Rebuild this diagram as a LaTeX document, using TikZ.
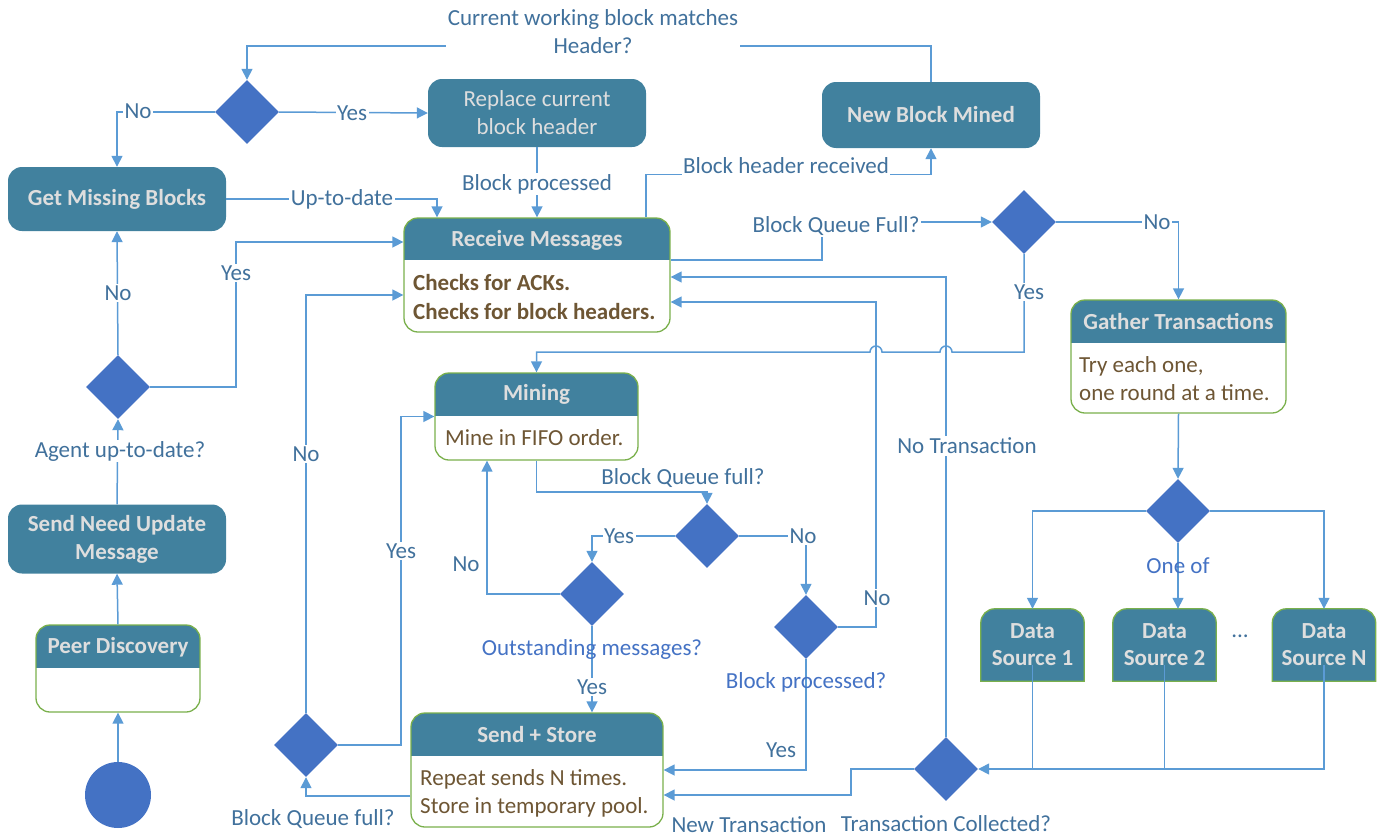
\documentclass[tikz,border=0pt]{standalone}
\usepackage{fontspec}
\setmainfont{Carlito}
\usetikzlibrary{shapes.geometric,arrows.meta,backgrounds}
\definecolor{boxfill}{RGB}{65,129,158}
\definecolor{hdr}{RGB}{222,222,222}
\definecolor{grn}{RGB}{122,176,76}
\definecolor{dblue}{RGB}{68,114,196}
\definecolor{lblue}{RGB}{91,155,213}
\definecolor{ltxt}{RGB}{65,113,156}
\definecolor{brn}{RGB}{110,86,52}
\begin{document}
\begin{tikzpicture}[x=1pt,y=-1pt,
  every node/.style={font=\fontsize{23}{28}\selectfont},
  hbox/.style={rectangle, rounded corners=14pt, fill=boxfill, text=hdr, font=\fontsize{23}{28}\selectfont\bfseries, align=center, inner sep=0pt},
  split/.style={rectangle, rounded corners=14pt, draw=grn, line width=1.3pt, fill=white, inner sep=0pt,
    path picture={\fill[boxfill, sharp corners] (path picture bounding box.north west) rectangle ([yshift=-#1]path picture bounding box.north east);}},
  htxt/.style={text=hdr, font=\fontsize{23}{28}\selectfont\bfseries, align=center, inner sep=0pt},
  btxt/.style={text=brn, align=left, anchor=west, inner sep=0pt},
  dsrc/.style={text=hdr, font=\fontsize{23}{27}\selectfont\bfseries, align=center, inner sep=0pt, minimum width=103pt, minimum height=72pt},
  dia/.style={diamond, fill=dblue, minimum width=64pt, minimum height=64pt, inner sep=0pt},
  plain/.style={draw=lblue, line width=1.5pt},
  conn/.style={plain, -{Triangle[length=11pt,width=11pt]}},
  lab/.style={fill=white, text=ltxt, inner sep=1.5pt, align=center},
  tlab/.style={text=ltxt, inner sep=1pt, align=center},
  blab/.style={text=dblue, inner sep=1pt, align=center}]
\useasboundingbox (0,0) rectangle (1379,838);

% ---------- nodes ----------
\node[dia] (d1) at (247,112) {};
\node[hbox, minimum width=218pt, minimum height=68pt] (rep) at (537,113) {\mdseries Replace current\\\mdseries block header};
\node[hbox, minimum width=218pt, minimum height=66pt] (nbm) at (931,115) {New Block Mined};
\node[hbox, minimum width=218pt, minimum height=64pt] (gmb) at (117,199) {Get Missing Blocks};

\node[split=42pt, minimum width=266pt, minimum height=114pt] (recv) at (537,275) {};
\node[htxt] (recvh) at (537,240) {Receive Messages};
\node[btxt, font=\fontsize{23}{29}\selectfont\bfseries] (recvb) at (413,297) {Checks for ACKs.\\Checks for block headers.};

\node[dia] (dbq) at (1024,222) {};

\node[split=43pt, minimum width=215pt, minimum height=113pt] (gat) at (1178.5,356.5) {};
\node[htxt] (gath) at (1178.5,321) {Gather Transactions};
\node[btxt] (gatb) at (1079,379) {Try each one,\\one round at a time.};

\node[dia] (dag) at (118,387) {};
\node[hbox, minimum width=218pt, minimum height=69pt] (snu) at (117,539) {Send Need Update\\Message};

\node[split=43pt, minimum width=164pt, minimum height=87pt] (peer) at (118,668.5) {};
\node[htxt] (peerh) at (118,647) {Peer Discovery};

\node[circle, fill=dblue, minimum size=66pt, inner sep=0pt] (start) at (118,795) {};

\node[split=43pt, minimum width=203pt, minimum height=87pt] (mine) at (536.5,416.5) {};
\node[htxt] (mineh) at (536.5,394) {Mining};
\node[btxt] (mineb) at (445,438) {Mine in FIFO order.};

\node[dia] (dmq) at (707,536) {};
\node[dia] (dout) at (592,594) {};
\node[dia] (dbp) at (806,627) {};

\node[split=43pt, minimum width=252pt, minimum height=114pt] (ss) at (537,770) {};
\node[htxt] (ssh) at (537,735) {Send + Store};
\node[btxt] (ssb) at (420,793) {Repeat sends N times.\\Store in temporary pool.};

\node[dia] (dl) at (306,745) {};
\node[dia] (dtc) at (946,769) {};
\node[dia] (done) at (1178,511) {};

\node[dsrc] (ds1) at (1032.5,645) {Data\\Source 1};
\node[dsrc] (ds2) at (1164.5,645) {Data\\Source 2};
\node[dsrc] (dsn) at (1324,645) {Data\\Source N};
\begin{scope}[on background layer]
  \foreach \n in {ds1,ds2,dsn}{
    \filldraw[fill=boxfill, draw=grn, line width=1.3pt] (\n.south west) [rounded corners=14pt] -- (\n.north west) -- (\n.north east) [sharp corners] -- (\n.south east) -- cycle;
  }
\end{scope}
\node[text=ltxt] (dots) at (1240,636) {...};

% ---------- connectors ----------
\draw[conn] (nbm.north) -- (931,46) -| (d1.north);
\draw[conn] (d1.east) -- (rep.west);
\draw[conn] (d1.west) -| (gmb.north);
\draw[conn] (rep.south) -- (recv.north);
\draw[conn] (gmb.east) -| ([xshift=-100pt]recv.north);
\draw[conn] ([xshift=109pt]recv.north) -- ++(0,-43) -| (nbm.south);
\draw[conn] ([yshift=15pt]recv.east) -- (822,260) |- (dbq.west);
\draw[conn] (dbq.east) -| (gat.north);
\draw[conn] (dbq.south) -- (1024,352) -- (952,352) arc[start angle=0,end angle=180,radius=6pt] -- (882,352) arc[start angle=0,end angle=180,radius=6pt] -- (536.5,352) -- (mine.north);
\draw[conn] (gat.south) -- (done.north);
\draw[conn] (done.west) -| (ds1.north);
\draw[conn] (done.east) -| (dsn.north);
\draw[conn] (done.south) -- (ds2.north -| done.south);
\draw[plain] ([yshift=16pt]ds1.south) -- (ds1.south |- dtc.east);
\draw[plain] ([yshift=16pt]ds2.south) -- (ds2.south |- dtc.east);
\draw[conn] ([yshift=16pt]dsn.south) |- (dtc.east);
\draw[conn] (dtc.north) |- ([yshift=-2pt]recv.east);
\draw[conn] (dtc.west) -- (851,769) |- ([yshift=-25pt]ss.east);
\draw[conn] (mine.south) -- (536.5,492) -| (dmq.north);
\draw[conn] (dmq.west) -| (dout.north);
\draw[conn] (dmq.east) -| (dbp.north);
\draw[conn] (dout.west) -| ([xshift=-49.5pt]mine.south);
\draw[conn] (dout.south) -- (ss.north -| dout.south);
\draw[conn] (dbp.east) -- (876,627) |- ([yshift=-27pt]recv.east);
\draw[conn] (dbp.south) |- (ss.east);
\draw[conn] ([yshift=-26pt]ss.west) -| (dl.south);
\draw[conn] (dl.north) |- ([yshift=-20pt]recv.west);
\draw[conn] (dl.east) -- (401,745) |- (mine.west);
\draw[conn] (snu.north) -- (dag.south);
\draw[conn] (dag.north) -- (gmb.south);
\draw[conn] (dag.east) -- (236,387) |- ([yshift=33pt]recv.west);
\draw[conn] (peer.north) -- (snu.south);
\draw[conn] (start.north) -- (peer.south);

% ---------- labels ----------
\node[lab] (l1) at (593,32) {Current working block matches\\Header?};
\node[lab] (l2) at (352,113) {Yes};
\node[lab] (l3) at (138,111) {No};
\node[lab] (l4) at (537,184) {Block processed};
\node[lab] (l5) at (342,199) {Up-to-date};
\node[lab] (l6) at (786,166) {Block header received};
\node[lab] (l7) at (836,226) {Block Queue Full?};
\node[lab] (l8) at (1157,222) {No};
\node[lab] (l9) at (1029,292) {Yes};
\node[blab] (l10) at (1178,566) {One of};
\node[lab] (l11) at (967,446) {No Transaction};
\node[tlab] (l12) at (946,824) {Transaction Collected?};
\node[tlab] (l13) at (749,825) {New Transaction};
\node[tlab] (l14) at (683,478) {Block Queue full?};
\node[lab] (l15) at (619,536) {Yes};
\node[lab] (l16) at (803,536) {No};
\node[tlab] (l17) at (466,564) {No};
\node[blab] (l18) at (592,649) {Outstanding messages?};
\node[lab] (l19) at (592,687) {Yes};
\node[lab] (l20) at (877,598) {No};
\node[tlab] (l21) at (781,750) {Yes};
\node[blab] (l22) at (806,682) {Block processed?};
\node[tlab] (l23) at (313,819) {Block Queue full?};
\node[lab] (l24) at (306,454) {No};
\node[lab] (l25) at (401,551) {Yes};
\node[lab] (l26) at (120,451) {Agent up-to-date?};
\node[lab] (l27) at (118,293) {No};
\node[lab] (l28) at (236,273) {Yes};
\end{tikzpicture}
\end{document}
